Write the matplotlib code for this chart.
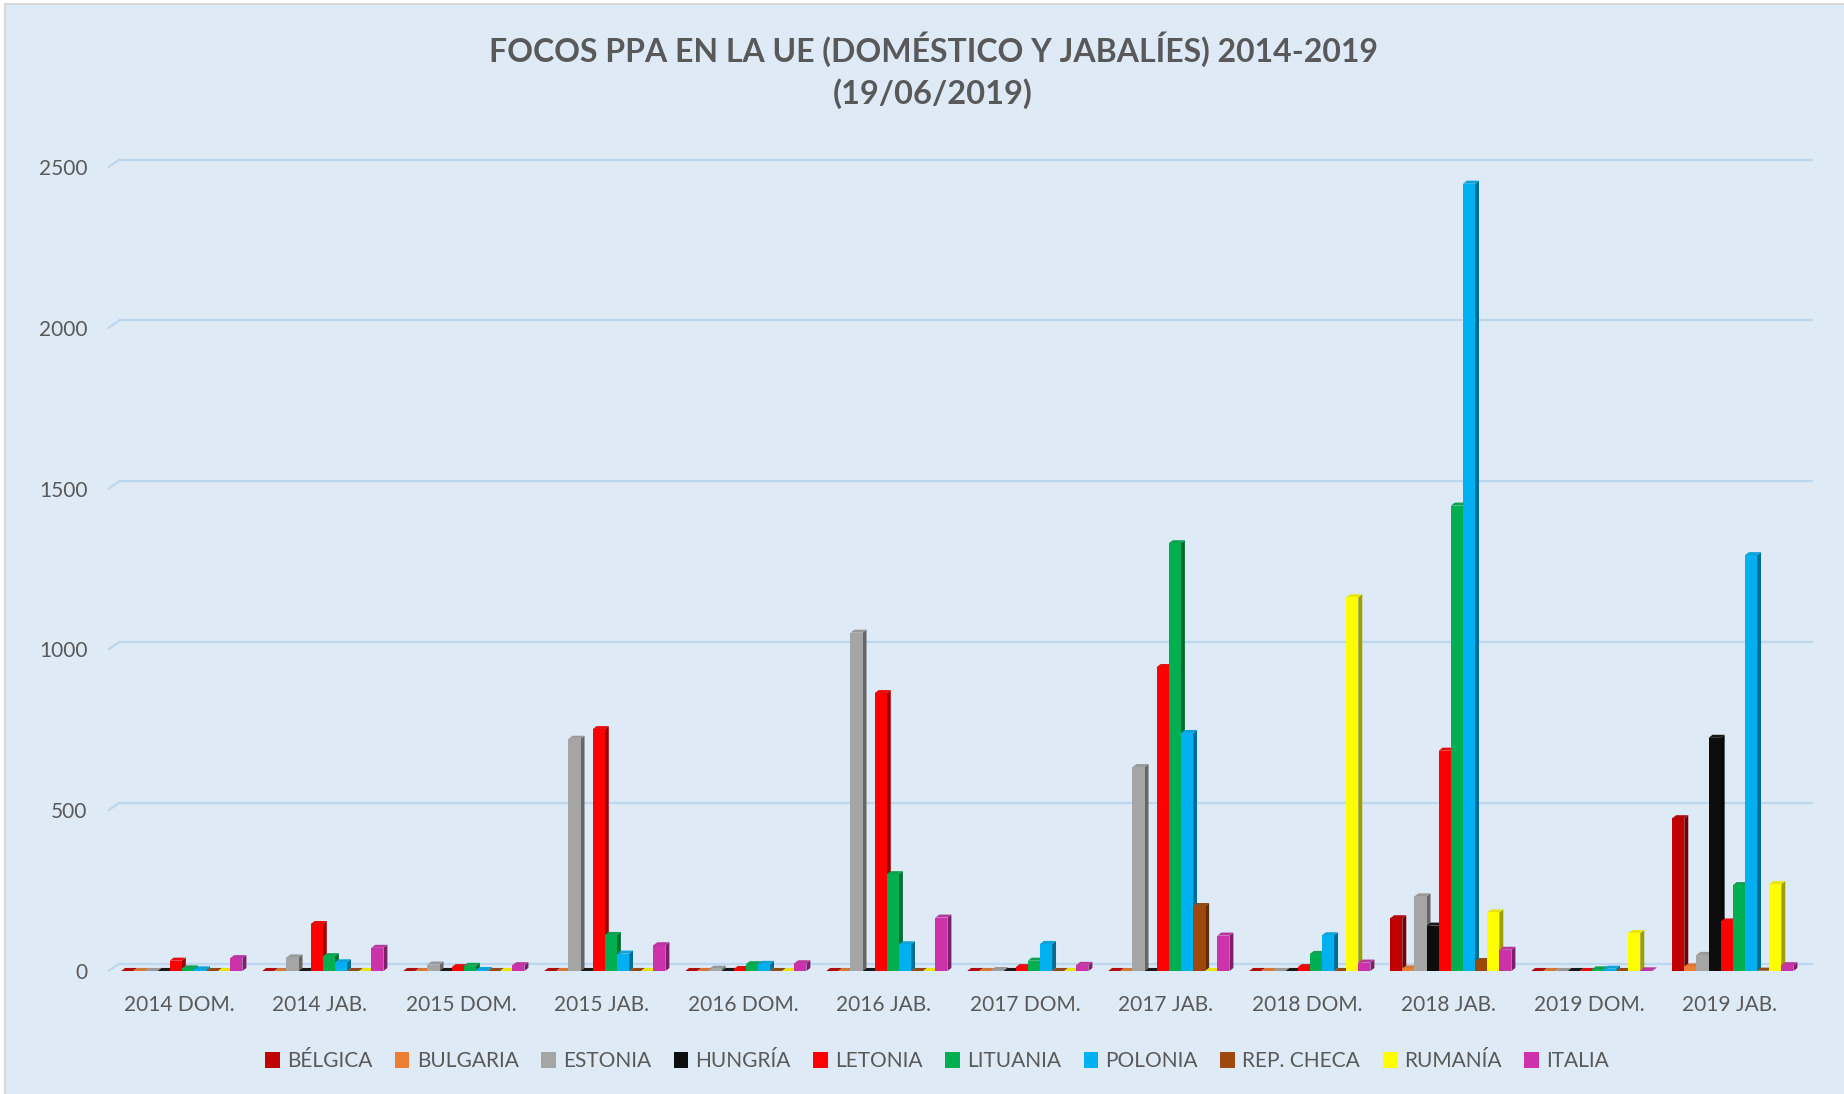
import matplotlib.pyplot as plt
import numpy as np
from matplotlib.patches import Polygon, Rectangle, Patch
from matplotlib.colors import to_rgb
import matplotlib.transforms as mtransforms

# categories and series
categories = ["2014 DOM.", "2014 JAB.", "2015 DOM.", "2015 JAB.", "2016 DOM.", "2016 JAB.",
              "2017 DOM.", "2017 JAB.", "2018 DOM.", "2018 JAB.", "2019 DOM.", "2019 JAB."]
countries = ["BÉLGICA", "BULGARIA", "ESTONIA", "HUNGRÍA", "LETONIA",
             "LITUANIA", "POLONIA", "REP. CHECA", "RUMANÍA", "ITALIA"]

belgica   = [0, 0, 0, 0, 0, 0, 0, 0, 0, 164, 0, 475]
bulgaria  = [0, 0, 0, 0, 0, 0, 0, 0, 0, 8, 0, 14]
estonia   = [0, 42, 20, 722, 7, 1052, 3, 634, 0, 232, 0, 50]
hungria   = [0, 0, 0, 0, 0, 0, 0, 0, 0, 141, 0, 725]
letonia   = [32, 146, 12, 752, 6, 864, 12, 945, 12, 685, 0, 154]
lituania  = [8, 46, 16, 112, 21, 301, 32, 1330, 53, 1447, 5, 267]
polonia   = [5, 27, 3, 54, 22, 83, 84, 740, 111, 2448, 7, 1293]
rep_checa = [0, 0, 0, 0, 0, 0, 0, 202, 0, 31, 0, 1]
rumania   = [0, 0, 0, 0, 0, 0, 0, 0, 1162, 182, 118, 270]
italia    = [40, 72, 18, 80, 24, 166, 19, 110, 26, 66, 2, 18]

series = [belgica, bulgaria, estonia, hungria, letonia,
          lituania, polonia, rep_checa, rumania, italia]
colors = ["#C00000", "#ED7D31", "#A5A5A5", "#0D0D0D", "#FF0000",
          "#00B050", "#00B0F0", "#9E480E", "#FFFF00", "#CC33AA"]

TXT = "#595959"
BG = "#DEEBF7"
GRID = "#BDD7EE"

plt.rcParams["font.family"] = ["Lato", "DejaVu Sans"]

W, H = 1844, 1094
fig = plt.figure(figsize=(W / 100, H / 100), dpi=100, facecolor="white")
fig.patches.append(Rectangle((5 / W, -0.01), 1.02, 1 - 4 / H + 0.01, transform=fig.transFigure,
                             facecolor=BG, edgecolor="#D9D9D9", lw=1.5, zorder=-10))

ax = fig.add_axes([108.5 / W, 123 / H, 1692 / W, 804 / H])
ax.set_facecolor("none")
ax.set_xlim(-0.5, len(categories) - 0.5)
ax.set_ylim(0, 2500)
for s in ax.spines.values():
    s.set_visible(False)

yticks = [0, 500, 1000, 1500, 2000, 2500]
ax.set_yticks(yticks)
ax.set_xticks(np.arange(len(categories)))
ax.set_xticklabels(categories)
ax.tick_params(axis="y", length=0, pad=15, labelsize=15, labelcolor=TXT)
ax.tick_params(axis="x", length=0, pad=17, labelsize=15, labelcolor=TXT)

# back-wall gridlines with a short perspective piece on the left
back = mtransforms.ScaledTranslation(0.11, 0.075, fig.dpi_scale_trans)
ytr = ax.get_yaxis_transform()
for t in yticks:
    ax.plot([0, 1], [t, t], transform=ytr + back, color=GRID, lw=1.6, zorder=1, clip_on=False)
    ax.annotate("", xy=(0, t), xycoords=ytr, xytext=(7.92, 5.4), textcoords="offset points",
                arrowprops=dict(arrowstyle="-", color=GRID, lw=1.6, shrinkA=0, shrinkB=0),
                zorder=1, annotation_clip=False)

# bars with a pseudo-3D side and top face
n = len(series)
bw = 0.086
dx = 0.028
dy = 9.5
x = np.arange(len(categories))
start = -bw * n / 2 + 0.02
for i, (vals, col) in enumerate(zip(series, colors)):
    z = 10 + i
    pos = x + start + i * bw
    bars = ax.bar(pos, vals, width=bw, align="edge", color=col, zorder=z + 0.2,
                  linewidth=0, clip_on=False)
    rgb = np.array(to_rgb(col))
    side_c = rgb * 0.62
    top_c = np.clip(rgb * 0.85 + 0.05, 0, 1)
    for b in bars:
        x0 = b.get_x()
        x1 = x0 + b.get_width()
        h = b.get_height()
        ax.add_patch(Polygon([(x1, 0), (x1, h), (x1 + dx, h + dy), (x1 + dx, dy)],
                             closed=True, facecolor=side_c, edgecolor="none", zorder=z, clip_on=False))
        ax.add_patch(Polygon([(x0, h), (x1, h), (x1 + dx, h + dy), (x0 + dx, h + dy)],
                             closed=True, facecolor=top_c, edgecolor="none", zorder=z + 0.1, clip_on=False))

fig.text(933 / W, 1 - 49 / H, "FOCOS PPA EN LA UE (DOMÉSTICO Y JABALÍES) 2014-2019",
         ha="center", va="center", fontsize=23, fontweight="bold", color=TXT)
fig.text(933 / W, 1 - 94 / H, "(19/06/2019)",
         ha="center", va="center", fontsize=23.5, fontweight="bold", color=TXT)

handles = [Patch(facecolor=c, edgecolor="none", label=lab) for c, lab in zip(colors, countries)]
fig.legend(handles=handles, loc="center", bbox_to_anchor=(937 / W, 1 - 1061 / H), ncol=10,
           frameon=False, fontsize=15, labelcolor=TXT, handlelength=0.7, handleheight=0.8,
           handletextpad=0.35, columnspacing=1.08)

fig.savefig("out.png", dpi=100, facecolor="white")
